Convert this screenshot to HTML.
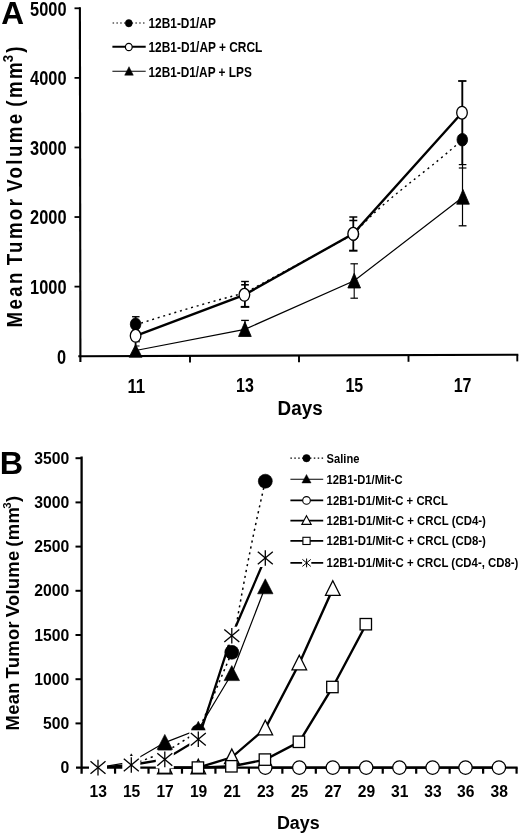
<!DOCTYPE html>
<html><head><meta charset="utf-8"><title>Figure</title>
<style>
html,body{margin:0;padding:0;background:#fff;}
body{width:520px;height:835px;overflow:hidden;font-family:"Liberation Sans",sans-serif;}
svg{display:block;filter:grayscale(1);}
text{font-family:"Liberation Sans",sans-serif;font-weight:bold;fill:#000;}
</style></head><body>
<svg width="520" height="835" viewBox="0 0 520 835">
<rect x="0" y="0" width="520" height="835" fill="#fff"/>
<line x1="79.9" y1="7.3" x2="80.4" y2="362" stroke="#000" stroke-width="2.1" />
<line x1="78.3" y1="356.3" x2="518.3" y2="354.7" stroke="#000" stroke-width="2.1" />
<line x1="74.5" y1="286.62" x2="80.1" y2="286.62" stroke="#000" stroke-width="1.8" />
<line x1="74.5" y1="217.04" x2="80.1" y2="217.04" stroke="#000" stroke-width="1.8" />
<line x1="74.5" y1="147.45999999999998" x2="80.1" y2="147.45999999999998" stroke="#000" stroke-width="1.8" />
<line x1="74.5" y1="77.88" x2="80.1" y2="77.88" stroke="#000" stroke-width="1.8" />
<line x1="74.5" y1="8.300000000000011" x2="80.1" y2="8.300000000000011" stroke="#000" stroke-width="1.8" />
<line x1="190" y1="355.9" x2="190" y2="362.59999999999997" stroke="#000" stroke-width="1.9" />
<line x1="299" y1="355.5" x2="299" y2="362.2" stroke="#000" stroke-width="1.9" />
<line x1="408.5" y1="355.1" x2="408.5" y2="361.8" stroke="#000" stroke-width="1.9" />
<line x1="517.3" y1="354.7" x2="517.3" y2="361.4" stroke="#000" stroke-width="1.9" />
<text x="66.2" y="363.6" font-size="19.3" text-anchor="end" textLength="9.1" lengthAdjust="spacingAndGlyphs" >0</text>
<text x="66.5" y="294.0" font-size="19.3" text-anchor="end" textLength="36.4" lengthAdjust="spacingAndGlyphs" >1000</text>
<text x="66.5" y="224.4" font-size="19.3" text-anchor="end" textLength="36.4" lengthAdjust="spacingAndGlyphs" >2000</text>
<text x="66.5" y="154.9" font-size="19.3" text-anchor="end" textLength="36.4" lengthAdjust="spacingAndGlyphs" >3000</text>
<text x="66.5" y="85.3" font-size="19.3" text-anchor="end" textLength="36.4" lengthAdjust="spacingAndGlyphs" >4000</text>
<text x="66.5" y="15.7" font-size="19.3" text-anchor="end" textLength="36.4" lengthAdjust="spacingAndGlyphs" >5000</text>
<text x="136.3" y="392.6" font-size="19.8" text-anchor="middle" textLength="17.8" lengthAdjust="spacingAndGlyphs" >11</text>
<text x="245.0" y="392.3" font-size="19.8" text-anchor="middle" textLength="17.8" lengthAdjust="spacingAndGlyphs" >13</text>
<text x="354.3" y="391.9" font-size="19.8" text-anchor="middle" textLength="17.8" lengthAdjust="spacingAndGlyphs" >15</text>
<text x="462.6" y="391.6" font-size="19.8" text-anchor="middle" textLength="17.8" lengthAdjust="spacingAndGlyphs" >17</text>
<text x="277.6" y="415.2" font-size="20" text-anchor="start" textLength="45" lengthAdjust="spacingAndGlyphs" >Days</text>
<g transform="translate(21.6 186.9) rotate(-90) scale(0.88 1)"><text x="0" y="0" font-size="21.2" text-anchor="middle" textLength="319.3" lengthAdjust="spacing" word-spacing="-3">Mean Tumor Volume (mm<tspan font-size="15" dy="-8.6" dx="-2.5">3</tspan><tspan dy="8.6">)</tspan></text></g>
<text x="1.2" y="23.9" font-size="31" text-anchor="start" textLength="22.8" lengthAdjust="spacingAndGlyphs" >A</text>
<polyline points="135.6,350.5 244.9,329.3 354.2,280.8 463,197" fill="none" stroke="#000" stroke-width="1.2" />
<path d="M135.6,324.8 C171.6,313.4 208.7,302.1 244.7,293 L353.5,234.2 C388.3,195.5 419.2,178.5 462.3,139.7" fill="none" stroke="#000" stroke-width="1.4" stroke-dasharray="2 3.8"/>
<polyline points="135.6,335.8 244.4,294.8 353.2,233.8 462,112.7" fill="none" stroke="#000" stroke-width="2.4" />
<line x1="135.6" y1="316.7" x2="135.6" y2="352" stroke="#000" stroke-width="1.8" />
<line x1="132.05" y1="316.7" x2="139.55" y2="316.7" stroke="#000" stroke-width="1.3" />
<line x1="137.0" y1="341.8" x2="140.0" y2="341.8" stroke="#000" stroke-width="1" />
<line x1="136.5" y1="346" x2="139.5" y2="346" stroke="#000" stroke-width="1" />
<line x1="244.9" y1="281.5" x2="244.9" y2="307" stroke="#000" stroke-width="1.8" />
<line x1="241.15" y1="281.5" x2="248.85" y2="281.5" stroke="#000" stroke-width="1.4" />
<line x1="241.15" y1="284.8" x2="248.85" y2="284.8" stroke="#000" stroke-width="1.6" />
<line x1="240.7" y1="306.9" x2="249.3" y2="306.9" stroke="#000" stroke-width="2" />
<line x1="245" y1="320.4" x2="245" y2="330" stroke="#000" stroke-width="1.2" />
<line x1="241.15" y1="320.4" x2="248.85" y2="320.4" stroke="#000" stroke-width="1.3" />
<line x1="353.3" y1="217" x2="353.3" y2="250.7" stroke="#000" stroke-width="1.8" />
<line x1="349.3" y1="217" x2="357.3" y2="217" stroke="#000" stroke-width="1.5" />
<line x1="349.3" y1="220.5" x2="357.3" y2="220.5" stroke="#000" stroke-width="1.5" />
<line x1="349.1" y1="250.7" x2="357.5" y2="250.7" stroke="#000" stroke-width="2" />
<line x1="354.2" y1="263.8" x2="354.2" y2="298.2" stroke="#000" stroke-width="1.1" />
<line x1="350.45" y1="263.8" x2="357.95" y2="263.8" stroke="#000" stroke-width="1.2" />
<line x1="350.45" y1="298.2" x2="357.95" y2="298.2" stroke="#000" stroke-width="1.2" />
<line x1="462.3" y1="81" x2="462.3" y2="165" stroke="#000" stroke-width="1.9" />
<line x1="462.5" y1="165" x2="462.5" y2="225.8" stroke="#000" stroke-width="1.2" />
<line x1="458.15000000000003" y1="81" x2="466.45" y2="81" stroke="#000" stroke-width="1.8" />
<line x1="458.8" y1="164.6" x2="466.40000000000003" y2="164.6" stroke="#000" stroke-width="1.2" />
<line x1="458.8" y1="168" x2="466.40000000000003" y2="168" stroke="#000" stroke-width="1.2" />
<line x1="458.70000000000005" y1="225.8" x2="466.5" y2="225.8" stroke="#000" stroke-width="1.3" />
<polygon points="135.6,344.6 142.04999999999998,357.2 129.15,357.2" fill="#000" stroke="#000" stroke-width="0.8" stroke-linejoin="miter"/>
<polygon points="244.9,321.8 251.25,336.5 238.55,336.5" fill="#000" stroke="#000" stroke-width="0.8" stroke-linejoin="miter"/>
<polygon points="354.2,273.3 360.55,288.0 347.84999999999997,288.0" fill="#000" stroke="#000" stroke-width="0.8" stroke-linejoin="miter"/>
<polygon points="463,189.5 469.35,204.2 456.65,204.2" fill="#000" stroke="#000" stroke-width="0.8" stroke-linejoin="miter"/>
<ellipse cx="135.6" cy="324.2" rx="5.3" ry="6.3" fill="#000" stroke="#000" stroke-width="0.8"/>
<ellipse cx="244.5" cy="294.2" rx="4.8" ry="5.6" fill="#000" stroke="#000" stroke-width="0.8"/>
<ellipse cx="353.5" cy="234.2" rx="5.3" ry="6.3" fill="#000" stroke="#000" stroke-width="0.8"/>
<ellipse cx="462.3" cy="139.7" rx="5.3" ry="6.3" fill="#000" stroke="#000" stroke-width="0.8"/>
<ellipse cx="135.6" cy="335.8" rx="5.3" ry="6.4" fill="#fff" stroke="#000" stroke-width="1.3"/>
<ellipse cx="244.4" cy="294.8" rx="5.3" ry="6.4" fill="#fff" stroke="#000" stroke-width="1.3"/>
<ellipse cx="353.2" cy="233.8" rx="5.3" ry="6.4" fill="#fff" stroke="#000" stroke-width="1.3"/>
<ellipse cx="462" cy="112.7" rx="5.3" ry="6.4" fill="#fff" stroke="#000" stroke-width="1.3"/>
<line x1="112.6" y1="23" x2="145.7" y2="23" stroke="#000" stroke-width="1.1" stroke-dasharray="1.5 2.3"/>
<ellipse cx="128.8" cy="23.2" rx="3.5" ry="3.7" fill="#000" stroke="#000" stroke-width="0.5"/>
<text x="148.5" y="28.3" font-size="14.6" text-anchor="start" textLength="67.3" lengthAdjust="spacingAndGlyphs" >12B1-D1/AP</text>
<line x1="112.4" y1="46.8" x2="145.7" y2="46.8" stroke="#000" stroke-width="2" />
<ellipse cx="128.8" cy="47.0" rx="3.4" ry="3.7" fill="#fff" stroke="#000" stroke-width="1.2"/>
<text x="148.5" y="52.099999999999994" font-size="14.6" text-anchor="start" textLength="113.8" lengthAdjust="spacingAndGlyphs" >12B1-D1/AP + CRCL</text>
<line x1="112.4" y1="71.3" x2="145.7" y2="71.3" stroke="#000" stroke-width="1.1" />
<polygon points="129,66.7 133.3,75.2 124.7,75.2" fill="#000" stroke="#000" stroke-width="0.5" stroke-linejoin="miter"/>
<text x="148.5" y="76.6" font-size="14.6" text-anchor="start" textLength="103.3" lengthAdjust="spacingAndGlyphs" >12B1-D1/AP + LPS</text>
<line x1="81.6" y1="456.6" x2="81.6" y2="773.7" stroke="#000" stroke-width="2.3" />
<line x1="76" y1="767.6" x2="517.6" y2="767.6" stroke="#000" stroke-width="2.3" />
<line x1="75.5" y1="723.4" x2="81.6" y2="723.4" stroke="#000" stroke-width="2" />
<line x1="75.5" y1="679.2" x2="81.6" y2="679.2" stroke="#000" stroke-width="2" />
<line x1="75.5" y1="635.0" x2="81.6" y2="635.0" stroke="#000" stroke-width="2" />
<line x1="75.5" y1="590.8" x2="81.6" y2="590.8" stroke="#000" stroke-width="2" />
<line x1="75.5" y1="546.6" x2="81.6" y2="546.6" stroke="#000" stroke-width="2" />
<line x1="75.5" y1="502.4" x2="81.6" y2="502.4" stroke="#000" stroke-width="2" />
<line x1="75.5" y1="458.2" x2="81.6" y2="458.2" stroke="#000" stroke-width="2" />
<line x1="115.06" y1="767.6" x2="115.06" y2="773.7" stroke="#000" stroke-width="2.2" />
<line x1="148.51999999999998" y1="767.6" x2="148.51999999999998" y2="773.7" stroke="#000" stroke-width="2.2" />
<line x1="181.98" y1="767.6" x2="181.98" y2="773.7" stroke="#000" stroke-width="2.2" />
<line x1="215.44" y1="767.6" x2="215.44" y2="773.7" stroke="#000" stroke-width="2.2" />
<line x1="248.9" y1="767.6" x2="248.9" y2="773.7" stroke="#000" stroke-width="2.2" />
<line x1="282.36" y1="767.6" x2="282.36" y2="773.7" stroke="#000" stroke-width="2.2" />
<line x1="315.82" y1="767.6" x2="315.82" y2="773.7" stroke="#000" stroke-width="2.2" />
<line x1="349.28" y1="767.6" x2="349.28" y2="773.7" stroke="#000" stroke-width="2.2" />
<line x1="382.74" y1="767.6" x2="382.74" y2="773.7" stroke="#000" stroke-width="2.2" />
<line x1="416.20000000000005" y1="767.6" x2="416.20000000000005" y2="773.7" stroke="#000" stroke-width="2.2" />
<line x1="449.65999999999997" y1="767.6" x2="449.65999999999997" y2="773.7" stroke="#000" stroke-width="2.2" />
<line x1="483.12" y1="767.6" x2="483.12" y2="773.7" stroke="#000" stroke-width="2.2" />
<line x1="516.58" y1="767.6" x2="516.58" y2="773.7" stroke="#000" stroke-width="2.2" />
<text x="69.3" y="773.1" font-size="16.2" text-anchor="end" textLength="8.8" lengthAdjust="spacingAndGlyphs" >0</text>
<text x="69.3" y="728.9" font-size="16.2" text-anchor="end" textLength="26.2" lengthAdjust="spacingAndGlyphs" >500</text>
<text x="69.3" y="684.7" font-size="16.2" text-anchor="end" textLength="35.0" lengthAdjust="spacingAndGlyphs" >1000</text>
<text x="69.3" y="640.5" font-size="16.2" text-anchor="end" textLength="35.0" lengthAdjust="spacingAndGlyphs" >1500</text>
<text x="69.3" y="596.3" font-size="16.2" text-anchor="end" textLength="35.0" lengthAdjust="spacingAndGlyphs" >2000</text>
<text x="69.3" y="552.1" font-size="16.2" text-anchor="end" textLength="35.0" lengthAdjust="spacingAndGlyphs" >2500</text>
<text x="69.3" y="507.9" font-size="16.2" text-anchor="end" textLength="35.0" lengthAdjust="spacingAndGlyphs" >3000</text>
<text x="69.3" y="463.7" font-size="16.2" text-anchor="end" textLength="35.0" lengthAdjust="spacingAndGlyphs" >3500</text>
<text x="98.3" y="796.9" font-size="16.2" text-anchor="middle" textLength="17.4" lengthAdjust="spacingAndGlyphs" >13</text>
<text x="131.60000000000002" y="796.9" font-size="16.2" text-anchor="middle" textLength="17.4" lengthAdjust="spacingAndGlyphs" >15</text>
<text x="165.10000000000002" y="796.9" font-size="16.2" text-anchor="middle" textLength="17.4" lengthAdjust="spacingAndGlyphs" >17</text>
<text x="198.60000000000002" y="796.9" font-size="16.2" text-anchor="middle" textLength="17.4" lengthAdjust="spacingAndGlyphs" >19</text>
<text x="232.10000000000002" y="796.9" font-size="16.2" text-anchor="middle" textLength="17.4" lengthAdjust="spacingAndGlyphs" >21</text>
<text x="265.6" y="796.9" font-size="16.2" text-anchor="middle" textLength="17.4" lengthAdjust="spacingAndGlyphs" >23</text>
<text x="299.6" y="796.9" font-size="16.2" text-anchor="middle" textLength="17.4" lengthAdjust="spacingAndGlyphs" >25</text>
<text x="333.1" y="796.9" font-size="16.2" text-anchor="middle" textLength="17.4" lengthAdjust="spacingAndGlyphs" >27</text>
<text x="366.5" y="796.9" font-size="16.2" text-anchor="middle" textLength="17.4" lengthAdjust="spacingAndGlyphs" >29</text>
<text x="399.7" y="796.9" font-size="16.2" text-anchor="middle" textLength="17.4" lengthAdjust="spacingAndGlyphs" >31</text>
<text x="432.90000000000003" y="796.9" font-size="16.2" text-anchor="middle" textLength="17.4" lengthAdjust="spacingAndGlyphs" >33</text>
<text x="465.8" y="796.9" font-size="16.2" text-anchor="middle" textLength="17.4" lengthAdjust="spacingAndGlyphs" >36</text>
<text x="499.2" y="796.9" font-size="16.2" text-anchor="middle" textLength="17.4" lengthAdjust="spacingAndGlyphs" >38</text>
<text x="276.9" y="829.2" font-size="18.8" text-anchor="start" textLength="42.8" lengthAdjust="spacingAndGlyphs" >Days</text>
<g transform="translate(18.5 613.2) rotate(-90)"><text x="0" y="0" font-size="18.4" text-anchor="middle" textLength="234.5" lengthAdjust="spacing" word-spacing="-1.5">Mean Tumor Volume (mm<tspan font-size="11.5" dy="-7.3" dx="-1.8">3</tspan><tspan dy="7.3">)</tspan></text></g>
<text x="-0.3" y="474.1" font-size="31.8" text-anchor="start" textLength="23.4" lengthAdjust="spacingAndGlyphs" >B</text>
<path d="M98,767.6 L131.3,764.5 L164.8,752.5 L198.3,731.5 L231.8,652.3 Q245.6,566 265.3,481.2" fill="none" stroke="#000" stroke-width="1.5" stroke-dasharray="2.2 3.8"/>
<ellipse cx="131.3" cy="764.5" rx="7" ry="7" fill="#000" stroke="#000" stroke-width="0.6"/>
<ellipse cx="164.8" cy="752.5" rx="7" ry="7" fill="#000" stroke="#000" stroke-width="0.6"/>
<ellipse cx="198.3" cy="731.5" rx="7" ry="7" fill="#000" stroke="#000" stroke-width="0.6"/>
<ellipse cx="231.8" cy="652.3" rx="7" ry="7" fill="#000" stroke="#000" stroke-width="0.6"/>
<ellipse cx="265.3" cy="481.2" rx="7" ry="7" fill="#000" stroke="#000" stroke-width="0.6"/>
<polyline points="98,767.6 131.3,762 164.8,742.6 198.3,729.5 231.8,673.8 265.3,587" fill="none" stroke="#000" stroke-width="1.2" />
<polygon points="131.3,753.8 139.0,768.8 123.60000000000001,768.8" fill="#000" stroke="#000" stroke-width="0.6" stroke-linejoin="miter"/>
<polygon points="164.8,734.4 172.5,749.4 157.10000000000002,749.4" fill="#000" stroke="#000" stroke-width="0.6" stroke-linejoin="miter"/>
<polygon points="198.3,721.3 206.0,736.3 190.60000000000002,736.3" fill="#000" stroke="#000" stroke-width="0.6" stroke-linejoin="miter"/>
<polygon points="231.8,665.5999999999999 239.5,680.5999999999999 224.10000000000002,680.5999999999999" fill="#000" stroke="#000" stroke-width="0.6" stroke-linejoin="miter"/>
<polygon points="265.3,578.8 273.0,593.8 257.6,593.8" fill="#000" stroke="#000" stroke-width="0.6" stroke-linejoin="miter"/>
<polyline points="265.3,767.6 299.3,767.6 332.8,767.6 366.2,767.6 399.4,767.6 432.6,767.6 465.5,767.6 498.9,767.6" fill="none" stroke="#000" stroke-width="2.3" />
<ellipse cx="265.3" cy="767.6" rx="6.7" ry="6.7" fill="#fff" stroke="#000" stroke-width="1.3"/>
<ellipse cx="299.3" cy="767.6" rx="6.7" ry="6.7" fill="#fff" stroke="#000" stroke-width="1.3"/>
<ellipse cx="332.8" cy="767.6" rx="6.7" ry="6.7" fill="#fff" stroke="#000" stroke-width="1.3"/>
<ellipse cx="366.2" cy="767.6" rx="6.7" ry="6.7" fill="#fff" stroke="#000" stroke-width="1.3"/>
<ellipse cx="399.4" cy="767.6" rx="6.7" ry="6.7" fill="#fff" stroke="#000" stroke-width="1.3"/>
<ellipse cx="432.6" cy="767.6" rx="6.7" ry="6.7" fill="#fff" stroke="#000" stroke-width="1.3"/>
<ellipse cx="465.5" cy="767.6" rx="6.7" ry="6.7" fill="#fff" stroke="#000" stroke-width="1.3"/>
<ellipse cx="498.9" cy="767.6" rx="6.7" ry="6.7" fill="#fff" stroke="#000" stroke-width="1.3"/>
<polyline points="164.8,767.6 198.3,767.6 231.8,757.3 265.3,728.5 299.3,663.5 332.8,589" fill="none" stroke="#000" stroke-width="2.4" />
<polygon points="164.8,759.3000000000001 172.10000000000002,773.9 157.5,773.9" fill="#fff" stroke="#000" stroke-width="1.3" stroke-linejoin="miter"/>
<polygon points="198.3,759.3000000000001 205.60000000000002,773.9 191.0,773.9" fill="#fff" stroke="#000" stroke-width="1.3" stroke-linejoin="miter"/>
<polygon points="231.8,749.0 239.10000000000002,763.5999999999999 224.5,763.5999999999999" fill="#fff" stroke="#000" stroke-width="1.3" stroke-linejoin="miter"/>
<polygon points="265.3,720.2 272.6,734.8 258.0,734.8" fill="#fff" stroke="#000" stroke-width="1.3" stroke-linejoin="miter"/>
<polygon points="299.3,655.2 306.6,669.8 292.0,669.8" fill="#fff" stroke="#000" stroke-width="1.3" stroke-linejoin="miter"/>
<polygon points="332.8,580.7 340.1,595.3 325.5,595.3" fill="#fff" stroke="#000" stroke-width="1.3" stroke-linejoin="miter"/>
<polyline points="164.8,767.6 198.3,767.6 231.8,766.3 265.3,759.6 299.3,741.8 332.8,687 366.2,624.2" fill="none" stroke="#000" stroke-width="2.4" />
<rect x="158.70000000000002" y="761.9" width="11.4" height="11.4" fill="#fff" stroke="#000" stroke-width="1.3"/>
<rect x="192.20000000000002" y="761.9" width="11.4" height="11.4" fill="#fff" stroke="#000" stroke-width="1.3"/>
<rect x="225.70000000000002" y="760.5999999999999" width="11.4" height="11.4" fill="#fff" stroke="#000" stroke-width="1.3"/>
<rect x="259.20000000000005" y="753.9" width="11.4" height="11.4" fill="#fff" stroke="#000" stroke-width="1.3"/>
<rect x="293.20000000000005" y="736.0999999999999" width="11.4" height="11.4" fill="#fff" stroke="#000" stroke-width="1.3"/>
<rect x="326.70000000000005" y="681.3" width="11.4" height="11.4" fill="#fff" stroke="#000" stroke-width="1.3"/>
<rect x="360.1" y="618.5" width="11.4" height="11.4" fill="#fff" stroke="#000" stroke-width="1.3"/>
<polyline points="98,767.6 131.3,765 164.8,759.4 198.3,739.3 231.8,635.7 265.3,558" fill="none" stroke="#000" stroke-width="2.3" />
<rect x="89" y="758.6" width="18" height="18" fill="#fff"/>
<line x1="98" y1="759.8000000000001" x2="98" y2="775.4" stroke="#000" stroke-width="1.3" />
<line x1="90.5" y1="761.36" x2="105.5" y2="773.84" stroke="#000" stroke-width="1.3" />
<line x1="90.5" y1="773.84" x2="105.5" y2="761.36" stroke="#000" stroke-width="1.3" />
<rect x="122.30000000000001" y="756" width="18" height="18" fill="#fff"/>
<line x1="131.3" y1="757.2" x2="131.3" y2="772.8" stroke="#000" stroke-width="1.3" />
<line x1="123.80000000000001" y1="758.76" x2="138.8" y2="771.24" stroke="#000" stroke-width="1.3" />
<line x1="123.80000000000001" y1="771.24" x2="138.8" y2="758.76" stroke="#000" stroke-width="1.3" />
<rect x="155.8" y="750.4" width="18" height="18" fill="#fff"/>
<line x1="164.8" y1="751.6" x2="164.8" y2="767.1999999999999" stroke="#000" stroke-width="1.3" />
<line x1="157.3" y1="753.16" x2="172.3" y2="765.64" stroke="#000" stroke-width="1.3" />
<line x1="157.3" y1="765.64" x2="172.3" y2="753.16" stroke="#000" stroke-width="1.3" />
<rect x="189.3" y="730.3" width="18" height="18" fill="#fff"/>
<line x1="198.3" y1="731.5" x2="198.3" y2="747.0999999999999" stroke="#000" stroke-width="1.3" />
<line x1="190.8" y1="733.06" x2="205.8" y2="745.54" stroke="#000" stroke-width="1.3" />
<line x1="190.8" y1="745.54" x2="205.8" y2="733.06" stroke="#000" stroke-width="1.3" />
<rect x="222.8" y="626.7" width="18" height="18" fill="#fff"/>
<line x1="231.8" y1="627.9000000000001" x2="231.8" y2="643.5" stroke="#000" stroke-width="1.3" />
<line x1="224.3" y1="629.46" x2="239.3" y2="641.94" stroke="#000" stroke-width="1.3" />
<line x1="224.3" y1="641.94" x2="239.3" y2="629.46" stroke="#000" stroke-width="1.3" />
<rect x="256.3" y="549" width="18" height="18" fill="#fff"/>
<line x1="265.3" y1="550.2" x2="265.3" y2="565.8" stroke="#000" stroke-width="1.3" />
<line x1="257.8" y1="551.76" x2="272.8" y2="564.24" stroke="#000" stroke-width="1.3" />
<line x1="257.8" y1="564.24" x2="272.8" y2="551.76" stroke="#000" stroke-width="1.3" />
<line x1="290.4" y1="458.2" x2="323.2" y2="458.2" stroke="#000" stroke-width="1.3" stroke-dasharray="1.5 2.4"/>
<ellipse cx="306.5" cy="458.2" rx="3.7" ry="3.7" fill="#000" stroke="#000" stroke-width="0.5"/>
<text x="326.6" y="462.5" font-size="12.1" text-anchor="start" textLength="32.9" lengthAdjust="spacingAndGlyphs" >Saline</text>
<line x1="290.4" y1="479.2" x2="323.2" y2="479.2" stroke="#000" stroke-width="1.1" />
<polygon points="306.5,474.4 311.1,483.0 301.9,483.0" fill="#000" stroke="#000" stroke-width="0.4" stroke-linejoin="miter"/>
<text x="326.6" y="483.5" font-size="12.1" text-anchor="start" textLength="76.1" lengthAdjust="spacingAndGlyphs" >12B1-D1/Mit-C</text>
<line x1="290.4" y1="500.4" x2="323.2" y2="500.4" stroke="#000" stroke-width="1.8" />
<ellipse cx="306.5" cy="500.4" rx="3.8" ry="3.8" fill="#fff" stroke="#000" stroke-width="1.1"/>
<text x="326.6" y="504.7" font-size="12.1" text-anchor="start" textLength="121.3" lengthAdjust="spacingAndGlyphs" >12B1-D1/Mit-C + CRCL</text>
<line x1="290.4" y1="520.7" x2="323.2" y2="520.7" stroke="#000" stroke-width="1.8" />
<polygon points="306.5,515.7 311.2,524.4000000000001 301.8,524.4000000000001" fill="#fff" stroke="#000" stroke-width="1.1" stroke-linejoin="miter"/>
<text x="326.6" y="525.0" font-size="12.1" text-anchor="start" textLength="159.3" lengthAdjust="spacingAndGlyphs" >12B1-D1/Mit-C + CRCL (CD4-)</text>
<line x1="290.4" y1="540.9" x2="323.2" y2="540.9" stroke="#000" stroke-width="1.8" />
<rect x="302.9" y="537.3" width="7.2" height="7.2" fill="#fff" stroke="#000" stroke-width="1.1"/>
<text x="326.6" y="545.1999999999999" font-size="12.1" text-anchor="start" textLength="159.3" lengthAdjust="spacingAndGlyphs" >12B1-D1/Mit-C + CRCL (CD8-)</text>
<line x1="290.4" y1="562.9" x2="323.2" y2="562.9" stroke="#000" stroke-width="1.9" />
<rect x="302.1" y="559.9" width="9.2" height="6" fill="#fff"/>
<line x1="306.6" y1="558.5" x2="306.6" y2="567.3" stroke="#000" stroke-width="1" />
<line x1="302.40000000000003" y1="559.38" x2="310.8" y2="566.42" stroke="#000" stroke-width="1" />
<line x1="302.40000000000003" y1="566.42" x2="310.8" y2="559.38" stroke="#000" stroke-width="1" />
<text x="326.6" y="567.1999999999999" font-size="12.1" text-anchor="start" textLength="191.8" lengthAdjust="spacingAndGlyphs" >12B1-D1/Mit-C + CRCL (CD4-, CD8-)</text>
</svg>
</body></html>
